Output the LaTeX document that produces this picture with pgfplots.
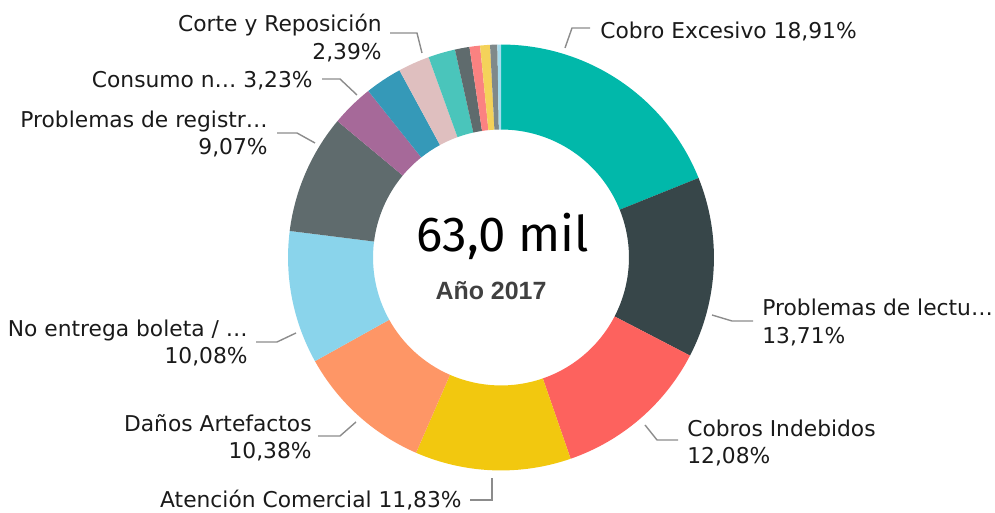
\documentclass[border=0pt]{standalone}
\usepackage{pgfplots}
\usepackage{pgfplotstable}
\pgfplotsset{compat=1.18}
\usepackage{fontspec}
\setmainfont{DejaVu Sans}
\newfontfamily\bigfont{Fira Sans}
\newfontfamily\boldfont{Liberation Sans}

\definecolor{txt}{HTML}{1A1A1A}
\definecolor{lead}{HTML}{8C8C8C}

% value = share in %, colour of the slice
\pgfplotstableread[col sep=comma]{
name,value,color
Cobro Excesivo,18.91,01B8AA
Problemas de lectura,13.71,374649
Cobros Indebidos,12.08,FD625E
Atencion Comercial,11.83,F2C80F
Danos Artefactos,10.38,FE9666
No entrega boleta,10.08,8AD4EB
Problemas de registro,9.07,5F6B6D
Consumo n,3.23,A66999
otro1,2.80,3599B8
Corte y Reposicion,2.39,DFBFBF
otro2,2.05,4AC5BB
otro3,1.10,5F6B6D
otro4,0.80,FB8281
otro5,0.75,F4D25A
otro6,0.55,7F898A
otro7,0.27,A4DDEE
}\slices

\begin{document}
\begin{tikzpicture}
\gdef\cum{0}
\foreach \i in {0,...,15}{%
  \pgfplotstablegetelem{\i}{value}\of\slices
  \pgfmathsetmacro\a{90-3.6*\cum}
  \pgfmathsetmacro\newcum{\cum+\pgfplotsretval}
  \pgfmathsetmacro\b{90-3.6*\newcum}
  \expandafter\xdef\csname sa\i\endcsname{\a}%
  \expandafter\xdef\csname sb\i\endcsname{\b}%
  \xdef\cum{\newcum}%
  \pgfplotstablegetelem{\i}{color}\of\slices
  \xglobal\definecolor{c\i}{HTML}{\pgfplotsretval}%
}
\begin{axis}[
    hide axis,
    x=0.02cm, y=0.02cm,
    xmin=0, xmax=995,
    ymin=0, ymax=513,
    clip=false,
]
    % keep the whole canvas in the bounding box
    \path (axis cs:0,0) rectangle (axis cs:995,513);

    % donut: centre (501,255.5), outer 213 = 4.26cm, inner 128 = 2.56cm
    \pgfplotsinvokeforeach{0,...,15}{
        \fill[c#1] (axis cs:501,255.5) ++(\csname sa#1\endcsname:4.26cm)
            arc[start angle=\csname sa#1\endcsname, end angle=\csname sb#1\endcsname, radius=4.26cm]
            -- ++(\csname sb#1\endcsname+180:1.7cm)
            arc[start angle=\csname sb#1\endcsname, end angle=\csname sa#1\endcsname, radius=2.56cm]
            -- cycle;
    }

    % centre text
    \node[anchor=base, inner sep=0pt, font=\bigfont\fontsize{28}{30}\selectfont, text=black] at (axis cs:503,261) {63,0 mil};
    \node[anchor=base, inner sep=0pt, font=\boldfont\bfseries\fontsize{14.2}{16}\selectfont, text=black!75] at (axis cs:491,213) {Año 2017};

    % leader lines
    \begin{scope}[lead, line width=0.8pt]
    \draw (axis cs:590,485) -- (axis cs:572,485) -- (axis cs:565,465);
    \draw (axis cs:753,192) -- (axis cs:732,192) -- (axis cs:712,198);
    \draw (axis cs:678,73) -- (axis cs:657,73) -- (axis cs:645,88);
    \draw (axis cs:470,13) -- (axis cs:492,13) -- (axis cs:492,35);
    \draw (axis cs:318,77) -- (axis cs:340,77) -- (axis cs:356,91);
    \draw (axis cs:256,171) -- (axis cs:277,171) -- (axis cs:296,180);
    \draw (axis cs:277,380) -- (axis cs:297,380) -- (axis cs:315,370);
    \draw (axis cs:322,434) -- (axis cs:340,434) -- (axis cs:357,418);
    \draw (axis cs:390,480) -- (axis cs:417,480) -- (axis cs:422,460);
    \end{scope}

    % labels
    \begin{scope}[every node/.style={text=txt, font=\fontsize{12.4}{14}\selectfont, inner sep=0pt}]
    \node[anchor=base west] at (axis cs:600,474) {Cobro Excesivo 18,91\%};
    \node[anchor=base west] at (axis cs:762,197) {Problemas de lectu…};
    \node[anchor=base west] at (axis cs:762,169) {13,71\%};
    \node[anchor=base west] at (axis cs:687,76) {Cobros Indebidos};
    \node[anchor=base west] at (axis cs:687,49) {12,08\%};
    \node[anchor=base east] at (axis cs:462,5) {Atención Comercial 11,83\%};
    \node[anchor=base east] at (axis cs:312,81) {Daños Artefactos};
    \node[anchor=base east] at (axis cs:312,54) {10,38\%};
    \node[anchor=base east] at (axis cs:248,176) {No entrega boleta / …};
    \node[anchor=base east] at (axis cs:248,149) {10,08\%};
    \node[anchor=base east] at (axis cs:268,385) {Problemas de registr…};
    \node[anchor=base east] at (axis cs:268,358) {9,07\%};
    \node[anchor=base east] at (axis cs:313,425) {Consumo n… 3,23\%};
    \node[anchor=base east] at (axis cs:382,481) {Corte y Reposición};
    \node[anchor=base east] at (axis cs:382,453) {2,39\%};
    \end{scope}
\end{axis}
\end{tikzpicture}
\end{document}
